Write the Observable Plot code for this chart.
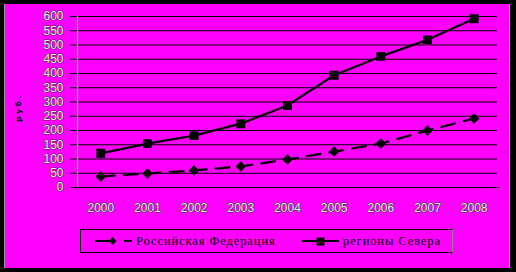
<!DOCTYPE html>
<html>
<head>
<meta charset="utf-8">
<script src="https://cdn.jsdelivr.net/npm/d3@7"></script>
<script src="https://cdn.jsdelivr.net/npm/@observablehq/plot@0.6"></script>
<style>
  html, body { margin: 0; padding: 0; background: #000; }
  #wrap { position: relative; width: 516px; height: 272px; background: #000; overflow: hidden; }
  #panel { position: absolute; left: 4px; top: 4px; width: 506px; height: 264px; background: #ff00ff;
           border-left: 1px solid #9a9a9a; border-right: 1px solid #9a9a9a; box-sizing: border-box; }
  #chart { position: absolute; left: 0; top: 0; }
  #ylab { position: absolute; left: 0px; top: 103px; font: bold 7.5px "DejaVu Sans", sans-serif; color: #000;
          transform: rotate(-90deg); transform-origin: center; width: 36px; text-align: center; letter-spacing: 2.5px; }
  #legend { position: absolute; left: 80px; top: 229px; width: 373px; height: 24px; box-sizing: border-box;
            border: 1px solid #000; border-right-color: #888; }
  .item { position: absolute; top: 0; height: 22px; display: flex; align-items: center;
          font: 12.5px "Liberation Serif", serif; letter-spacing: 0.9px; color: #000; white-space: nowrap; }
  .item svg { display: block; }
</style>
</head>
<body>
<div id="wrap">
  <div id="panel"></div>
  <div id="chart"></div>
  <div id="ylab">руб.</div>
  <div id="legend"></div>
</div>
<script>
const years = [2000, 2001, 2002, 2003, 2004, 2005, 2006, 2007, 2008];
const russia = [39, 49, 60, 74, 98, 126, 154, 200, 242];
const north = [120, 154, 182, 224, 288, 394, 460, 518, 592];
const yTicks = [0, 50, 100, 150, 200, 250, 300, 350, 400, 450, 500, 550, 600];
const seriesNames = ["Российская Федерация", "регионы Севера"];

const rfData = years.map((y, i) => ({year: y, value: russia[i]}));
const nData = years.map((y, i) => ({year: y, value: north[i]}));

const tickText = {fill: "#eeeeee", stroke: "#303030", strokeWidth: 0.9, fontSize: 12,
                  fontFamily: "Liberation Sans, Arial, sans-serif"};

const chart = Plot.plot({
  width: 516, height: 220,
  marginLeft: 77, marginRight: 19, marginTop: 16, marginBottom: 33,
  style: {background: "transparent", overflow: "visible"},
  x: {domain: [1999.5, 2008.5], axis: null},
  y: {domain: [0, 600], axis: null},
  marks: [
    Plot.ruleY(yTicks.filter(d => d > 0), {y: d => d, x1: 1999.35, x2: 2008.5, stroke: "#000", strokeWidth: 1}),
    Plot.ruleX([1999.5], {y1: 0, y2: 600, stroke: "#8c8c8c", strokeWidth: 1.5}),
    Plot.ruleY([0], {x1: 1999.37, x2: 2008.55, stroke: "#000", strokeWidth: 1}),
    Plot.text(yTicks, {x: 1999.5, y: d => d, dx: -14, textAnchor: "end", text: d => String(d), ...tickText}),
    Plot.text(years, {x: d => d, y: 0, dy: 21, text: d => String(d), ...tickText}),
    Plot.line(rfData, {x: "year", y: "value", stroke: "#000", strokeWidth: 2.2, strokeDasharray: "14,9"}),
    Plot.line(nData, {x: "year", y: "value", stroke: "#000", strokeWidth: 2.2}),
    Plot.dot(rfData, {x: "year", y: "value", symbol: "diamond2", r: 3.8, fill: "#000", stroke: "#000"}),
    Plot.dot(nData, {x: "year", y: "value", symbol: "square", r: 4.2, fill: "#000", stroke: "#000"})
  ]
});
document.getElementById("chart").appendChild(chart);

// Legend
const legend = document.getElementById("legend");
const items = [
  {name: seriesNames[0], left: 14, dashed: true, symbol: "diamond"},
  {name: seriesNames[1], left: 221, dashed: false, symbol: "square"}
];
const NS = "http://www.w3.org/2000/svg";
for (const it of items) {
  const div = document.createElement("div");
  div.className = "item";
  div.style.left = it.left + "px";
  const svg = document.createElementNS(NS, "svg");
  svg.setAttribute("width", 41); svg.setAttribute("height", 22);
  const line = document.createElementNS(NS, "line");
  line.setAttribute("x1", 0); line.setAttribute("x2", 37);
  line.setAttribute("y1", 11); line.setAttribute("y2", 11);
  line.setAttribute("stroke", "#000"); line.setAttribute("stroke-width", 2.2);
  if (it.dashed) line.setAttribute("stroke-dasharray", "14,15,8");
  svg.appendChild(line);
  if (it.symbol === "square") {
    const r = document.createElementNS(NS, "rect");
    r.setAttribute("x", 14.5); r.setAttribute("y", 7.5); r.setAttribute("width", 8); r.setAttribute("height", 8);
    r.setAttribute("fill", "#000");
    svg.appendChild(r);
  } else {
    const p = document.createElementNS(NS, "path");
    p.setAttribute("d", "M17.5,7L21.5,11L17.5,15L13.5,11Z");
    p.setAttribute("fill", "#000");
    svg.appendChild(p);
  }
  div.appendChild(svg);
  const span = document.createElement("span");
  span.textContent = it.name;
  div.appendChild(span);
  legend.appendChild(div);
}
</script>
</body>
</html>
